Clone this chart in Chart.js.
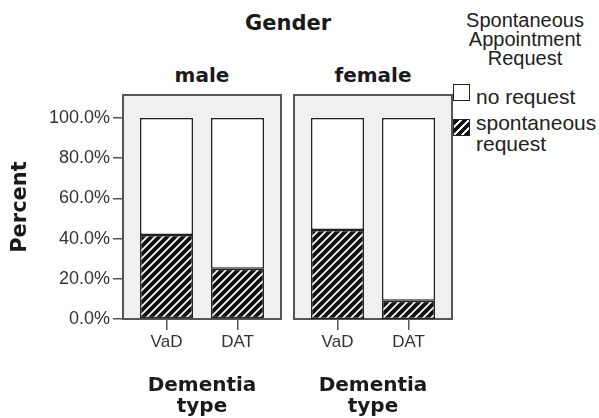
<!DOCTYPE html>
<html>
<head>
<meta charset="utf-8">
<script src="https://cdn.jsdelivr.net/npm/chart.js@4/dist/chart.umd.min.js"></script>
<style>
  body { margin: 0; width: 599px; height: 418px; position: relative; overflow: hidden; background: #fff; color: #222; }
  canvas { position: absolute; top: 0; }
  .bold { position: absolute; font-family: "DejaVu Sans"; font-weight: bold; white-space: nowrap; transform: translate(-50%, -50%); line-height: 1; color: #1a1a1a; }
  .leg { position: absolute; font-family: "Liberation Sans"; font-size: 21px; line-height: 21px; white-space: nowrap; color: #222; }
  .box { position: absolute; width: 15px; height: 15px; border: 1px solid #222; background: #fff; }
</style>
</head>
<body>
<div class="bold" style="left:288px; top:23px; font-size:21px;">Gender</div>
<div class="bold" style="left:202px; top:75px; font-size:20px;">male</div>
<div class="bold" style="left:373px; top:75px; font-size:20px;">female</div>

<div class="leg" style="left:525px; top:11px; transform:translateX(-50%); text-align:center; font-size:20px; line-height:19px;">Spontaneous<br>Appointment<br>Request</div>
<div class="box" style="left:453px; top:84px;"></div>
<div class="leg" style="left:476px; top:86px;">no request</div>
<div class="box" style="left:453px; top:119px; background:repeating-linear-gradient(135deg, #111 0 4px, #fff 4px 5.7px);"></div>
<div class="leg" style="left:476px; top:112px;">spontaneous<br>request</div>

<canvas id="male" width="290" height="418" style="left:0;"></canvas>
<canvas id="female" width="176" height="418" style="left:285px;"></canvas>

<script>
{
  const dementiaTypes = ['VaD', 'DAT'];
  const yTicks = [0, 20, 40, 60, 80, 100];

  // percent per dementia type
  const spontaneousMale = [41.8, 25.0];
  const noRequestMale = [58.2, 75.0];
  const spontaneousFemale = [44.3, 9.1];
  const noRequestFemale = [55.7, 90.9];

  // black with thin white diagonal stripes
  function hatch() {
    const n = 8;
    const c = document.createElement('canvas');
    c.width = n; c.height = n;
    const g = c.getContext('2d');
    g.fillStyle = '#111';
    g.fillRect(0, 0, n, n);
    g.strokeStyle = '#fff';
    g.lineWidth = 1.7;
    g.beginPath();
    g.moveTo(-1, n + 1); g.lineTo(n + 1, -1);
    g.moveTo(-1, 1); g.lineTo(1, -1);
    g.moveTo(n - 1, n + 1); g.lineTo(n + 1, n - 1);
    g.stroke();
    return g.createPattern(c, 'repeat');
  }

  // grey panel with frame behind the bars
  const panelFrame = {
    id: 'panelFrame',
    beforeDatasetsDraw(chart) {
      const { ctx, chartArea: a } = chart;
      ctx.save();
      ctx.fillStyle = '#f0f0f0';
      ctx.fillRect(a.left, a.top, a.right - a.left, a.bottom - a.top);
      ctx.strokeStyle = '#555';
      ctx.lineWidth = 2;
      ctx.strokeRect(a.left, a.top, a.right - a.left, a.bottom - a.top);
      ctx.restore();
    }
  };

  function makePanel(id, spont, noReq, showY) {
    const ctx = document.getElementById(id).getContext('2d');
    const pts = vals => vals.map((v, i) => ({ x: i, y: v }));
    return new Chart(ctx, {
      type: 'bar',
      data: {
        datasets: [
          { label: 'spontaneous request', data: pts(spont), backgroundColor: hatch() },
          { label: 'no request', data: pts(noReq), backgroundColor: '#fff' }
        ]
      },
      options: {
        responsive: false,
        animation: false,
        events: [],
        layout: { padding: { top: 95, bottom: 0, left: showY ? 0 : 9, right: 9 } },
        datasets: {
          bar: { borderColor: '#222', borderWidth: 1.5, borderSkipped: false, categoryPercentage: 1, barPercentage: 0.7465 }
        },
        plugins: { legend: { display: false }, tooltip: { enabled: false } },
        scales: {
          x: {
            type: 'linear', min: -0.6127, max: 1.6127, stacked: true, offset: false,
            afterBuildTicks: s => { s.ticks = dementiaTypes.map((_, i) => ({ value: i })); },
            afterFit: s => { s.height = 99; },
            grid: { drawOnChartArea: false, tickLength: 11, color: '#555', lineWidth: 1.5, offset: false },
            border: { display: false },
            ticks: {
              callback: v => dementiaTypes[v],
              font: { family: 'Liberation Sans', size: 17 }, color: '#333', padding: 2,
              maxRotation: 0, autoSkip: false
            },
            title: {
              display: true, text: ['Dementia', 'type'], color: '#1a1a1a',
              font: { family: 'DejaVu Sans', weight: 'bold', size: 20, lineHeight: 1.05 },
              padding: { top: 0, bottom: 1 }
            }
          },
          y: {
            min: 0, max: 111.44, stacked: true, display: showY,
            afterBuildTicks: s => { s.ticks = yTicks.map(v => ({ value: v })); },
            afterFit: s => { s.width = showY ? 123 : 0; },
            grid: { drawOnChartArea: false, tickLength: 10, color: '#555', lineWidth: 1.5 },
            border: { display: false },
            ticks: {
              callback: v => v.toFixed(1) + '%',
              font: { family: 'Liberation Sans', size: 18 }, color: '#333', padding: 3
            },
            title: {
              display: true, text: 'Percent', color: '#1a1a1a',
              font: { family: 'DejaVu Sans', weight: 'bold', size: 21 },
              padding: { top: 8, bottom: 0 }
            }
          }
        }
      },
      plugins: [panelFrame]
    });
  }

  makePanel('male', spontaneousMale, noRequestMale, true);
  makePanel('female', spontaneousFemale, noRequestFemale, false);
}
</script>
</body>
</html>
